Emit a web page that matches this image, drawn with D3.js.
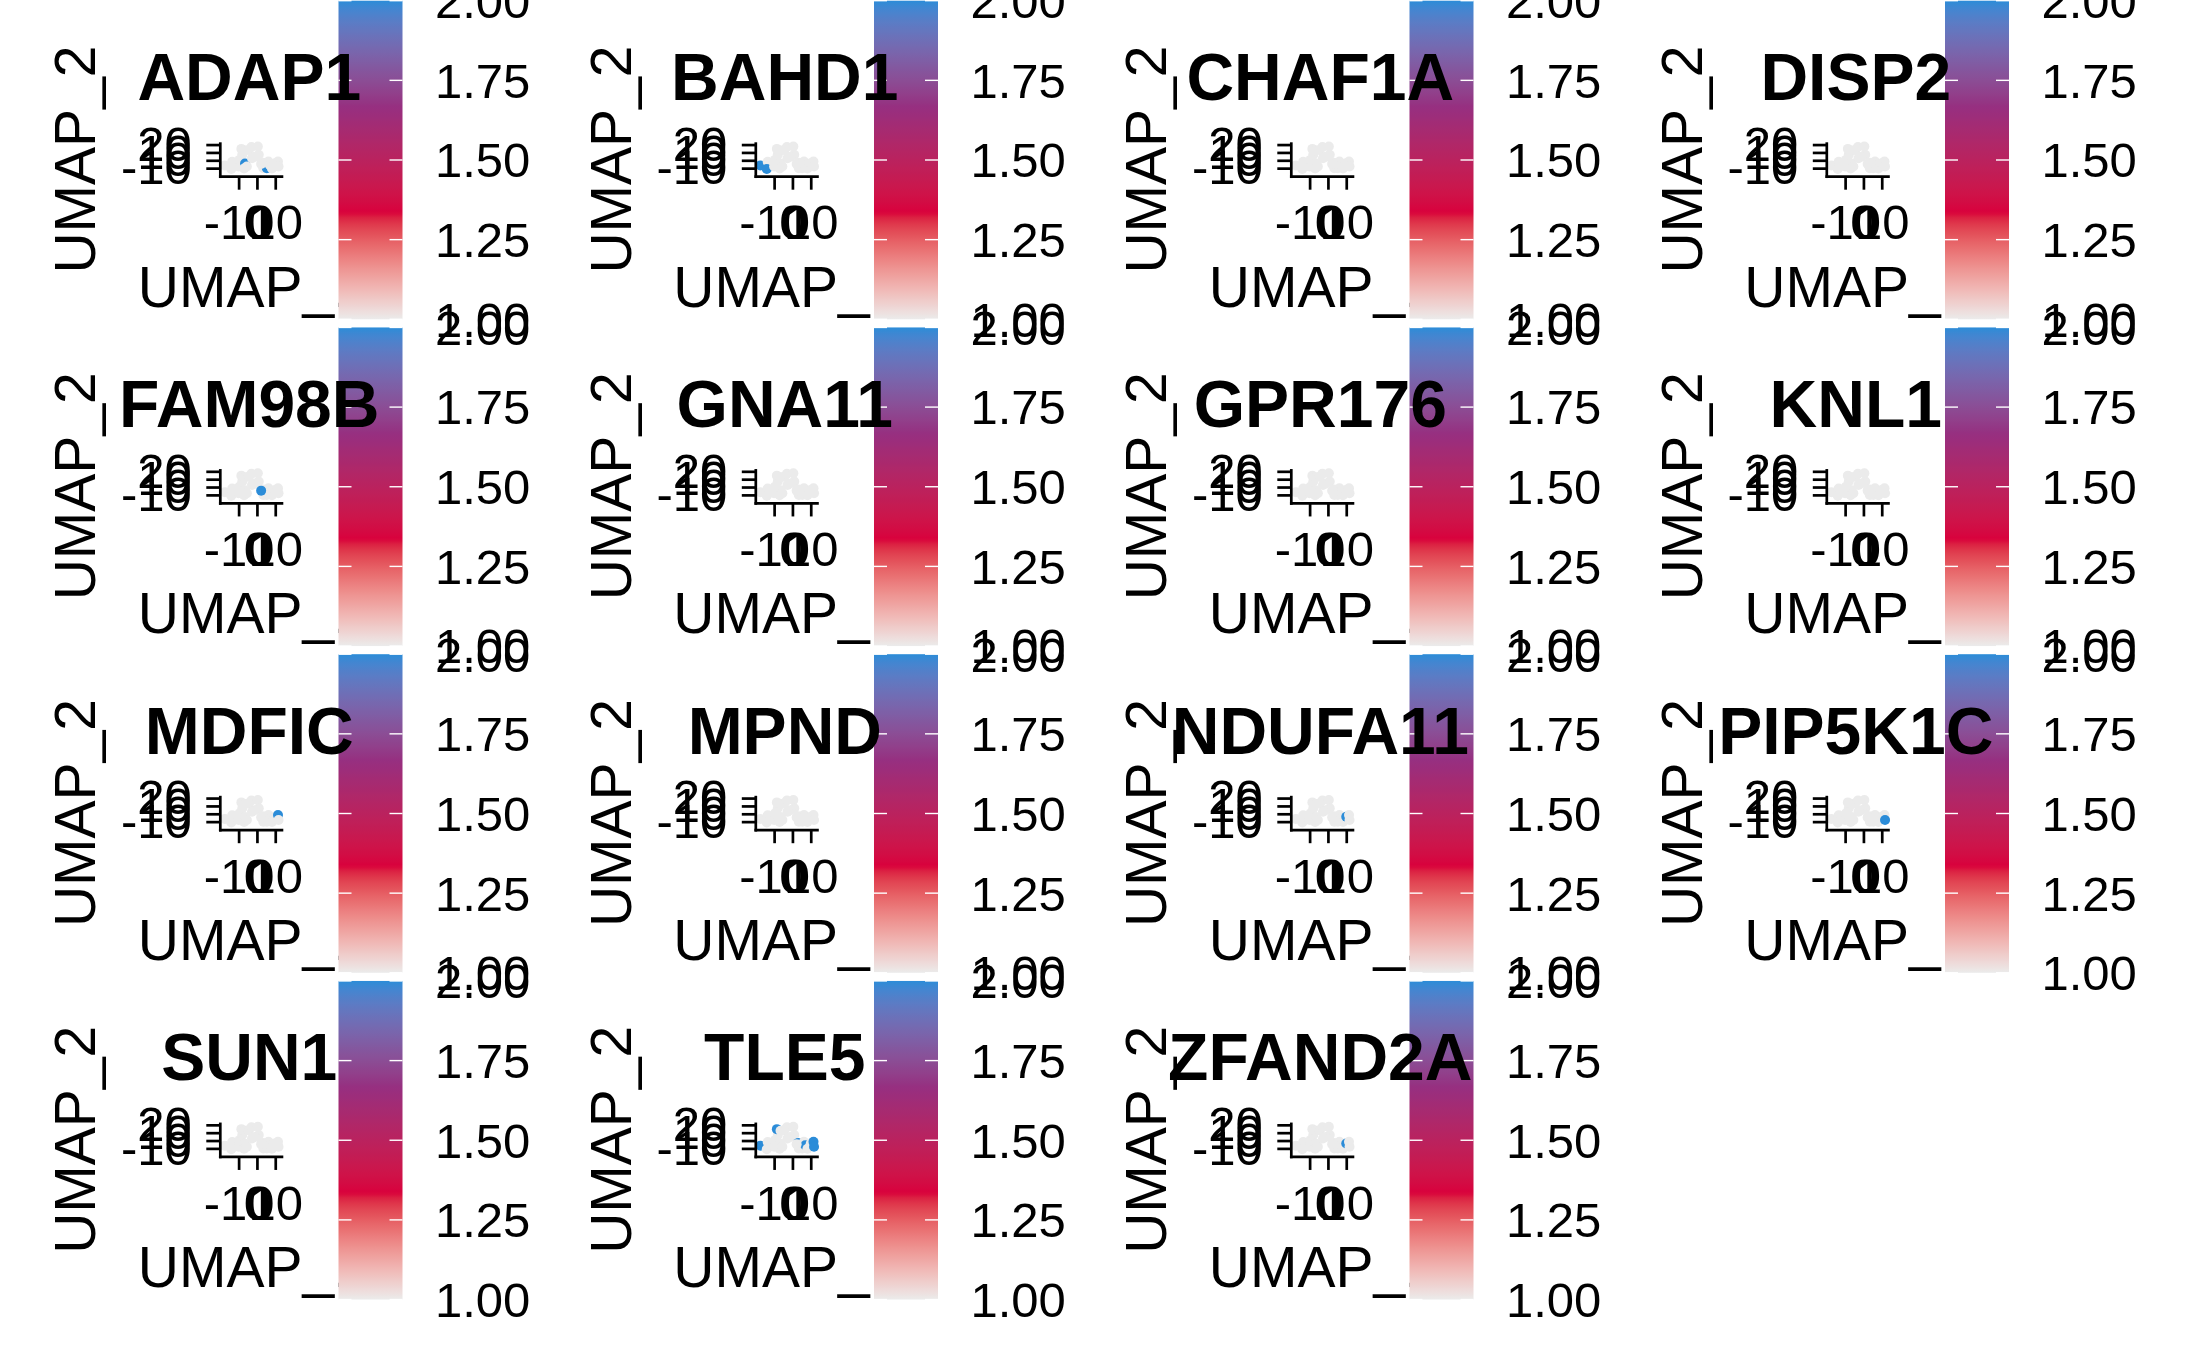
<!DOCTYPE html>
<html><head><meta charset="utf-8">
<script src="https://cdn.jsdelivr.net/npm/d3@7"></script>
<style>
body{margin:0;background:#fff;}
svg{display:block;}
text{font-family:"Liberation Sans",Arial,Helvetica,sans-serif;fill:#000;}
</style>
</head><body>
<svg id="chart" width="2187" height="1351"></svg>
<script>
// ---------- data ----------
const genes = ["ADAP1","BAHD1","CHAF1A","DISP2","FAM98B","GNA11","GPR176","KNL1",
               "MDFIC","MPND","NDUFA11","PIP5K1C","SUN1","TLE5","ZFAND2A"];
// UMAP embedding of the cells (drawing order = array order)
const cellX = [-17.5,-13.5,-14,-10,-9.5,-8,-6.5,-7,-5.5,-8.5,-6.5,-4.5,-3,0.5,1,-1.2,-2.7,
               3.2,3.5,5.4,6.3,7,8.8,8.2,10,11.5,11.8,2.3];
const cellY = [-6.5,-2,-11,-8,0.5,7,-4,-10.5,-8,14.5,12.5,13,17,17.5,7,4.5,2.5,
               -3,-10,-10,-1.7,-6,-8,-10.5,-3.8,-1.7,-8,-4.6];
// cells with high expression (value 2) per gene; all other cells have value 1
const expressedCells = [[6,19],[0,2],[],[],[27],[],[],[],
                        [25],[],[24],[26],[],[0,9,17,21,22,25,26],[24]];
const highValue = 2;
const lowValue = 1;
const xTicks = [-10,0,10];
const yTicks = [-10,0,10,20];
const xLimits = [-20,14.4];
const yLimits = [-20.9,22.9];
const legendLimits = [1,2];
const legendTicks = [1.00,1.25,1.50,1.75,2.00];
const gradientStops = [1,4/3,5/3,2];
const gradientColors = ["#EBEBEB","#D9003C","#962F80","#2B8CD8"];
const xTitle = "UMAP_1";
const yTitle = "UMAP_2";

// ---------- layout ----------
const nCol = 4;
const colStep = 535.5, rowStep = 326.75;
const panel = {left:220.3, right:283.3, top:142.3, bottom:176.7};
const bar = {x:338.5, w:64, top:0.7, bottom:319.3};
const fsText = 49, fsTitle = 57, fsPlotTitle = 66;

const svg = d3.select("#chart");
const color = d3.scaleLinear().domain(gradientStops).range(gradientColors).interpolate(d3.interpolateLab).clamp(true);
const x = d3.scaleLinear().domain(xLimits).range([panel.left, panel.right]);
const y = d3.scaleLinear().domain(yLimits).range([panel.bottom, panel.top]);
const ly = d3.scaleLinear().domain(legendLimits).range([bar.bottom, bar.top]);
const tickFmt = d => String(d);

// gradient
const defs = svg.append("defs");
const grad = defs.append("linearGradient").attr("id","cbar").attr("x1",0).attr("y1",1).attr("x2",0).attr("y2",0);
d3.range(0,101).forEach(i=>{
  const v = legendLimits[0] + (legendLimits[1]-legendLimits[0])*i/100;
  grad.append("stop").attr("offset", i+"%").attr("stop-color", color(v));
});

const cells = cellX.map((cx,i)=>({x:cx, y:cellY[i], i}));

genes.forEach((gene, gi)=>{
  const c = gi % nCol, r = Math.floor(gi / nCol);
  const g = svg.append("g").attr("transform",`translate(${c*colStep},${r*rowStep})`);
  const expr = new Set(expressedCells[gi]);
  const cx0 = (panel.left+panel.right)/2;

  // y axis title
  g.append("text").attr("transform",`translate(95,${(panel.top+panel.bottom)/2}) rotate(-90)`)
    .attr("text-anchor","middle").attr("font-size",fsTitle).text(yTitle);

  // points
  g.append("g").selectAll("circle").data(cells).join("circle")
    .attr("cx",d=>x(d.x)).attr("cy",d=>y(d.y)).attr("r",5)
    .attr("fill",d=>color(expr.has(d.i)?highValue:lowValue));

  // axes
  const ax = g.append("g").attr("transform",`translate(0,${panel.bottom})`)
    .call(d3.axisBottom(x).tickValues(xTicks).tickSize(13).tickSizeOuter(0).tickPadding(15).tickFormat(tickFmt));
  const ay = g.append("g").attr("transform",`translate(${panel.left},0)`)
    .call(d3.axisLeft(y).tickValues(yTicks).tickSize(14).tickSizeOuter(0).tickPadding(14.6).tickFormat(tickFmt));
  [ax,ay].forEach(a=>{
    a.attr("font-family",null).attr("font-size",null);
    a.selectAll("path,line").attr("stroke","#000").attr("stroke-width",2.7);
    a.selectAll("text").attr("font-size",fsText).attr("fill","#000");
  });
  ay.select(".domain").attr("d",`M0,${panel.top}V${panel.bottom+1.35}`);
  ax.select(".domain").attr("d",`M${panel.left-1.35},0H${panel.right}`);

  // x axis title
  g.append("text").attr("x",cx0).attr("y",306.7).attr("text-anchor","middle")
    .attr("font-size",fsTitle).text(xTitle);

  // colorbar
  g.append("rect").attr("x",bar.x).attr("y",bar.top).attr("width",bar.w)
    .attr("height",bar.bottom-bar.top).attr("fill","url(#cbar)");
  legendTicks.forEach(v=>{
    g.append("line").attr("x1",bar.x).attr("x2",bar.x+13).attr("y1",ly(v)).attr("y2",ly(v))
      .attr("stroke","#fff").attr("stroke-width",1.4);
    g.append("line").attr("x1",bar.x+bar.w-13).attr("x2",bar.x+bar.w).attr("y1",ly(v)).attr("y2",ly(v))
      .attr("stroke","#fff").attr("stroke-width",1.4);
  });
  g.append("g").selectAll("text").data(legendTicks).join("text")
    .attr("x",bar.x+bar.w+32.5).attr("y",d=>ly(d)).attr("dy","0.355em")
    .attr("font-size",fsText).text(d=>d3.format(".2f")(d));

  // plot title
  g.append("text").attr("x",cx0-2.5).attr("y",100).attr("text-anchor","middle")
    .attr("font-size",fsPlotTitle).attr("font-weight","bold").text(gene);
});
</script>
</body></html>
